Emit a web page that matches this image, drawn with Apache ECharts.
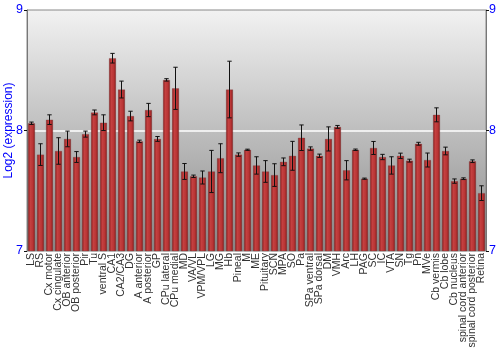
<!DOCTYPE html>
<html>
<head>
<meta charset="utf-8">
<script src="https://cdn.jsdelivr.net/npm/echarts@6/dist/echarts.min.js"></script>
<style>html,body{margin:0;padding:0;background:#fff}#c{width:500px;height:350px}</style>
</head>
<body>
<div id="c"></div>
<script>
const categories = ["LS","RS","Cx motor","Cx cingulate","OB anterior","OB posterior","Pir","Tu","ventral S","CA1","CA2/CA3","DG","A anterior","A posterior","GP","CPu lateral","CPu medial","MD","VA/VL","VPM/VPL","LG","MG","Hb","Pineal","M","ME","Pituitary","SCN","MPA","SO","Pa","SPa ventral","SPa dorsal","DM","VMH","Arc","LH","PAG","SC","IC","VTA","SN","Tg","Pn","MVe","Cb vermis","Cb lobe","Cb nucleus","spinal cord anterior","spinal cord posterior","Retina"];
const values = [8.06,7.80,8.09,7.83,7.93,7.78,7.97,8.15,8.065,8.60,8.34,8.12,7.91,8.17,7.93,8.42,8.35,7.66,7.62,7.61,7.66,7.77,8.34,7.80,7.84,7.71,7.66,7.63,7.74,7.79,7.94,7.85,7.79,7.93,8.03,7.67,7.84,7.60,7.855,7.78,7.71,7.79,7.75,7.89,7.755,8.13,7.83,7.58,7.60,7.745,7.48];
const errors = [0.01,0.09,0.04,0.11,0.065,0.045,0.025,0.02,0.065,0.04,0.07,0.04,0.01,0.055,0.02,0.01,0.175,0.066,0.01,0.054,0.175,0.12,0.235,0.014,0.005,0.072,0.09,0.094,0.032,0.12,0.106,0.014,0.014,0.1,0.012,0.08,0.006,0.005,0.054,0.022,0.072,0.022,0.012,0.012,0.058,0.058,0.032,0.018,0.007,0.011,0.061];
const yTicks = [7, 8, 9];

const errData = values.map((v, i) => [i, v - errors[i], v + errors[i]]);

const chart = echarts.init(document.getElementById('c'), null, {renderer: 'canvas'});
const font = 'Liberation Sans, Arial, sans-serif';
chart.setOption({
  animation: false,
  grid: {
    left: 27, right: 14, top: 10, bottom: 99,
    containLabel: false,
    outerBoundsMode: 'none',
    show: true,
    borderColor: '#888', borderWidth: 1,
    backgroundColor: new echarts.graphic.LinearGradient(0, 0, 0, 1, [
      {offset: 0, color: '#f2f2f2'},
      {offset: 1, color: '#8a8a8a'}
    ])
  },
  xAxis: {
    type: 'category',
    data: categories,
    axisLine: {show: false},
    axisTick: {show: false},
    axisLabel: {
      interval: 0, rotate: 90, fontSize: 10.5, color: '#333', fontFamily: font, margin: 2
    }
  },
  yAxis: [{
    type: 'value', min: yTicks[0], max: yTicks[yTicks.length - 1], interval: 1,
    name: 'Log2 (expression)', nameLocation: 'middle', nameGap: 12,
    nameMoveOverlap: false,
    nameTextStyle: {color: '#0000ff', fontSize: 12, fontFamily: font},
    axisLine: {show: true, lineStyle: {color: '#777'}},
    axisTick: {show: true, length: 3, lineStyle: {color: '#111'}},
    axisLabel: {color: '#0000ff', fontSize: 12.5, fontFamily: font, margin: 4},
    splitLine: {show: true, lineStyle: {color: ['transparent', '#ffffff', 'transparent'], width: 1.5}}
  }, {
    type: 'value', min: yTicks[0], max: yTicks[yTicks.length - 1], interval: 1, position: 'right',
    axisLine: {show: true, lineStyle: {color: '#777'}},
    axisTick: {show: true, length: 3, lineStyle: {color: '#111'}},
    axisLabel: {color: '#0000ff', fontSize: 12.5, fontFamily: font, margin: 3},
    splitLine: {show: false}
  }],
  series: [{
    type: 'bar',
    data: values,
    barWidth: 7,
    itemStyle: {
      color: new echarts.graphic.LinearGradient(0, 0, 1, 0, [
        {offset: 0, color: '#8e1c1c'},
        {offset: 0.35, color: '#c44040'},
        {offset: 0.7, color: '#b83434'},
        {offset: 1, color: '#861818'}
      ]),
      borderColor: 'rgba(110,60,60,0.6)', borderWidth: 0.5
    },
    z: 2
  }, {
    type: 'custom',
    data: errData,
    z: 3,
    renderItem: function (params, api) {
      const x = api.value(0);
      const lo = api.coord([x, api.value(1)]);
      const hi = api.coord([x, api.value(2)]);
      const cap = 2.2;
      const st = {stroke: '#111', lineWidth: 1};
      return {
        type: 'group',
        children: [
          {type: 'line', shape: {x1: lo[0], y1: lo[1], x2: hi[0], y2: hi[1]}, style: st},
          {type: 'line', shape: {x1: lo[0] - cap, y1: lo[1], x2: lo[0] + cap, y2: lo[1]}, style: st},
          {type: 'line', shape: {x1: hi[0] - cap, y1: hi[1], x2: hi[0] + cap, y2: hi[1]}, style: st}
        ]
      };
    }
  }]
});
</script>
</body>
</html>
